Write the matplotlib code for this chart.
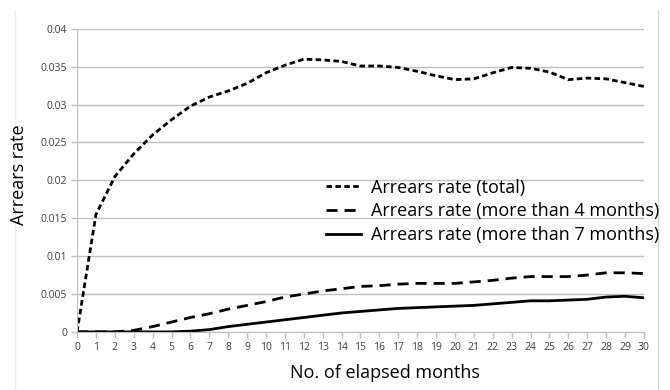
import matplotlib
matplotlib.use("Agg")
import matplotlib.pyplot as plt
from matplotlib.lines import Line2D

months = list(range(0, 31))
total = [0.0, 0.0155, 0.0205, 0.0235, 0.026, 0.028, 0.0298, 0.031, 0.0318, 0.0328,
         0.0342, 0.0352, 0.036, 0.0359, 0.0357, 0.0351, 0.0351, 0.0349, 0.0344, 0.0338,
         0.0333, 0.0334, 0.0342, 0.0349, 0.0348, 0.0343, 0.0333, 0.0335, 0.0334, 0.0329, 0.0324]
over4 = [0.0, 0.0, 0.0, 0.0002, 0.0007, 0.0013, 0.0019, 0.0024, 0.003, 0.0035,
         0.0040, 0.0046, 0.0050, 0.0054, 0.0057, 0.0060, 0.0061, 0.0063, 0.0064, 0.0064,
         0.0064, 0.0066, 0.0068, 0.0071, 0.0073, 0.0073, 0.0073, 0.0075, 0.0078, 0.0078, 0.0077]
over7 = [0.0, 0.0, 0.0, 0.0, 0.0, 0.0, 0.0001, 0.0003, 0.0007, 0.001,
         0.0013, 0.0016, 0.0019, 0.0022, 0.0025, 0.0027, 0.0029, 0.0031, 0.0032, 0.0033,
         0.0034, 0.0035, 0.0037, 0.0039, 0.0041, 0.0041, 0.0042, 0.0043, 0.0046, 0.0047, 0.0045]
labels = ["Arrears rate (total)", "Arrears rate (more than 4 months)",
          "Arrears rate (more than 7 months)"]
yticks = [0, 0.005, 0.01, 0.015, 0.02, 0.025, 0.03, 0.035, 0.04]
ytick_labels = ["0", "0.005", "0.01", "0.015", "0.02", "0.025", "0.03", "0.035", "0.04"]

plt.rcParams['font.family'] = ['Open Sans', 'DejaVu Sans']

fig = plt.figure(figsize=(6.7, 3.9), dpi=100)
fig.add_artist(Line2D([658/670, 658/670], [0.0, 0.975], color='#d9d9d9', lw=1.0, zorder=-5))
fig.add_artist(Line2D([15/670, 15/670], [0.0, 0.975], color='#eeeeee', lw=1.0, zorder=-5))

ax = fig.add_axes([0.115, 0.149, 0.846, 0.777])
ax.patch.set_alpha(0)

ax.plot(months, total, color='black', lw=2.0, linestyle=(0, (2.0, 1.2)), label=labels[0])
ax.plot(months, over4, color='black', lw=2.0, linestyle=(0, (4.0, 2.5)), label=labels[1])
ax.plot(months, over7, color='black', lw=2.0, linestyle='-', label=labels[2])

ax.set_xlim(0, 30)
ax.set_ylim(0, 0.04)
ax.set_xticks(months)
ax.set_xticklabels([str(m) for m in months])
ax.set_yticks(yticks)
ax.set_yticklabels(ytick_labels)
ax.grid(axis='y', color='#bfbfbf', lw=1.0)
ax.set_axisbelow(True)
for s in ['top', 'right']:
    ax.spines[s].set_visible(False)
ax.spines['left'].set_color('#bfbfbf')
ax.spines['bottom'].set_color('#bfbfbf')
ax.tick_params(axis='x', colors='#bfbfbf', labelcolor='#404040', labelsize=7.5, length=4, width=1)
ax.tick_params(axis='y', colors='#bfbfbf', labelcolor='#404040', labelsize=7.5, length=4, width=1, pad=3)

ax.set_xlabel("No. of elapsed months", fontsize=13)
ax.xaxis.set_label_coords(0.543, -0.105)
ax.set_ylabel("Arrears rate", fontsize=13)
ax.yaxis.set_label_coords(-0.086, 0.52)

ax.legend(loc='upper left', bbox_to_anchor=(0.427, 0.53), frameon=False, fontsize=13.0,
          handlelength=1.9, handletextpad=0.55, labelspacing=0.33, borderaxespad=0)

fig.savefig("out.png", dpi=100)
